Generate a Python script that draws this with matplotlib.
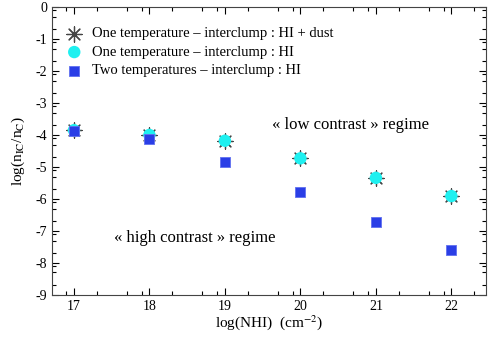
import matplotlib
matplotlib.use('Agg')
from matplotlib import pyplot as plt

# Données
logNHI = [17, 18, 19, 20, 21, 22]
one_temp_dust = [-3.85, -4.0, -4.18, -4.73, -5.34, -5.91]
one_temp_hi = [-3.85, -4.0, -4.18, -4.73, -5.34, -5.91]
two_temp_hi = [-3.86, -4.12, -4.86, -5.79, -6.73, -7.61]

x_major = [17, 18, 19, 20, 21, 22]
y_major = [0, -1, -2, -3, -4, -5, -6, -7, -8, -9]

plt.rcParams['font.family'] = ['Liberation Serif', 'DejaVu Serif']
plt.rcParams['mathtext.fontset'] = 'stix'
plt.rcParams['axes.unicode_minus'] = False

fig = plt.figure(figsize=(4.91, 3.37), dpi=100)
ax = fig.add_axes([0.106, 0.125, 0.884, 0.854])

# Plots
ax.scatter(logNHI, one_temp_dust, marker=(8, 2, 0), s=120, color='#444444', linewidths=0.9, zorder=2,
           label='One temperature – interclump : HI + dust')
ax.scatter(logNHI, one_temp_hi, marker='o', s=80, color='#1ff0f0', edgecolors='none', zorder=3,
           label='One temperature – interclump : HI')
ax.scatter(logNHI, two_temp_hi, marker='s', s=60, color='#2a3ee6', edgecolors='#6070f0', linewidths=0.6, zorder=4,
           label='Two temperatures – interclump : HI')

# Textes
ax.text(19.63, -3.7, '« low contrast » regime', fontsize=12, va='center', ha='left')
ax.text(17.53, -7.23, '« high contrast » regime', fontsize=12, va='center', ha='left')

# Axes
ax.set_xlim(16.71, 22.46)
ax.set_ylim(-9, 0.0)
ax.set_xticks(x_major)
ax.set_yticks(y_major)
ax.set_xticks([v + d for v in range(16, 23) for d in (0.3, 0.7, 0.9) if 16.71 < v + d < 22.46], minor=True)
ax.set_yticks([v + d for v in range(-9, 0) for d in (0.3, 0.7, 0.9)], minor=True)
ax.tick_params(which='both', direction='in', top=True, right=True, labelsize=10, width=0.8)
ax.tick_params(which='major', length=5)
ax.tick_params(which='minor', length=3)
for s in ax.spines.values():
    s.set_linewidth(0.8)
    s.set_color('#444444')

ax.set_xlabel('log(NHI)  (cm$^{\\mathrm{-2}}$)', fontsize=11, labelpad=0)
ax.set_ylabel('log(n$_{\\mathrm{IC}}$/n$_{\\mathrm{C}}$)', fontsize=11, labelpad=6)

ax.legend(loc='upper left', bbox_to_anchor=(0.031, 0.93), frameon=False, fontsize=10.5,
          handletextpad=0.6, borderaxespad=0, borderpad=0, labelspacing=0.36,
          handlelength=1.2, scatterpoints=1)

fig.savefig('out.png', dpi=100)
